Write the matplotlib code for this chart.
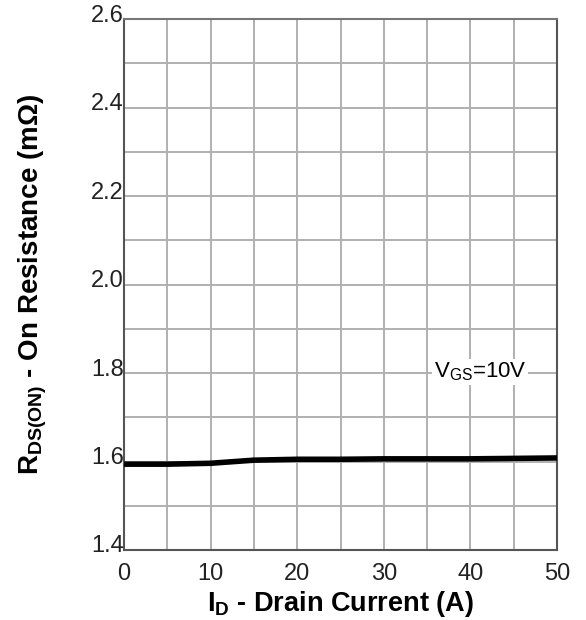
import matplotlib
matplotlib.use('Agg')
import matplotlib.pyplot as plt
import matplotlib.transforms as mtransforms
import numpy as np

plt.rcParams['font.family'] = ['Liberation Sans', 'DejaVu Sans']
plt.rcParams['mathtext.fontset'] = 'custom'
plt.rcParams['mathtext.rm'] = 'Liberation Sans'
plt.rcParams['mathtext.it'] = 'Liberation Sans'
plt.rcParams['mathtext.bf'] = 'Liberation Sans:bold'

current = [0, 5, 10, 15, 20, 25, 30, 35, 40, 45, 50]
resistance = [1.594, 1.594, 1.596, 1.603, 1.605, 1.605, 1.606, 1.606, 1.606, 1.607, 1.608]
x_ticks = [0, 10, 20, 30, 40, 50]
y_ticks = [1.4, 1.6, 1.8, 2.0, 2.2, 2.4, 2.6]

fig = plt.figure(figsize=(5.86, 6.2), dpi=100)
ax = fig.add_axes([124/586, 70/620, 433/586, 531/620])

ax.plot(current, resistance, color='black', lw=4, solid_capstyle='butt', zorder=3)

ax.set_xlim(0, 50)
ax.set_ylim(1.4, 2.6)
ax.set_xticks(x_ticks)
ax.set_yticks(y_ticks)
ax.set_xticks(np.arange(0, 51, 5), minor=True)
ax.set_yticks(np.arange(1.4, 2.61, 0.1), minor=True)
ax.set_yticklabels(['%.1f' % v for v in y_ticks])
ax.grid(True, which='both', color='#b0b0b0', lw=1.4)
ax.set_axisbelow(True)
ax.tick_params(which='both', length=0, labelsize=17, colors='#222222')
ax.tick_params(axis='y', pad=0)
ax.tick_params(axis='x', pad=9)
shift = mtransforms.ScaledTranslation(0, 6/100, fig.dpi_scale_trans)
for lab in ax.get_yticklabels():
    lab.set_transform(lab.get_transform() + shift)
for s in ['left', 'bottom', 'right']:
    ax.spines[s].set_color('#555555')
    ax.spines[s].set_linewidth(1.5)
ax.spines['top'].set_color('#777777')
ax.spines['top'].set_linewidth(1.5)

ax.text(41.1, 1.802, r'V$_{\mathregular{GS}}$=10V', fontsize=16, ha='center', va='center',
        bbox=dict(facecolor='white', edgecolor='none', pad=1), zorder=4)

ax.set_xlabel(r'$\mathbf{I_D}$ - Drain Current (A)', fontsize=19.5, fontweight='bold', labelpad=3)
ax.set_ylabel(r'$\mathbf{R_{DS(ON)}}$ - On Resistance (mΩ)', fontsize=20, fontweight='bold', labelpad=30)

fig.savefig('out.png', dpi=100)
